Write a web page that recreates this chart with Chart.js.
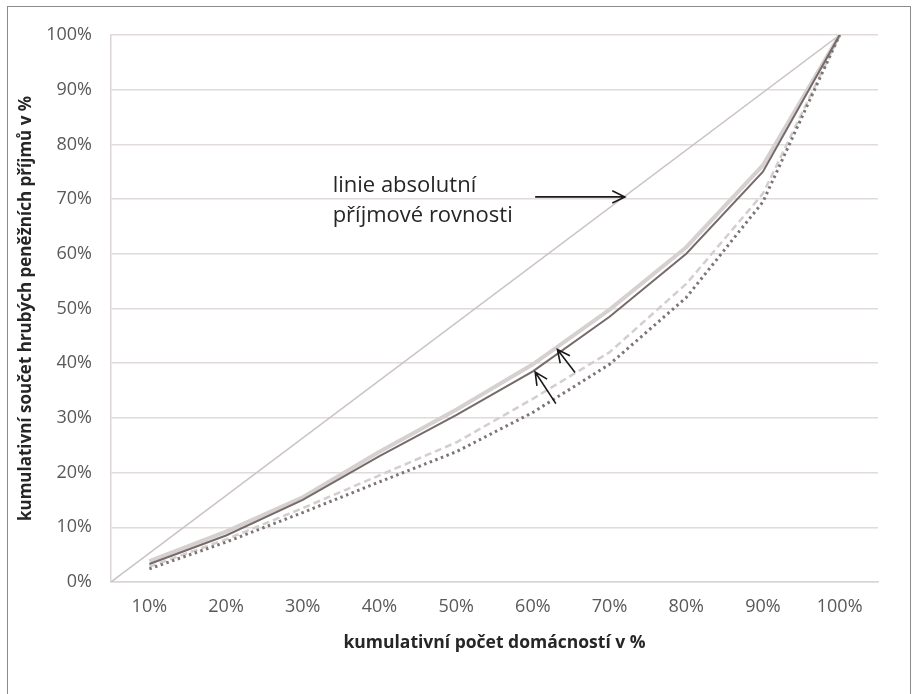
<!DOCTYPE html>
<html>
<head>
<meta charset="utf-8">
<script src="https://cdn.jsdelivr.net/npm/chart.js@4.4.1/dist/chart.umd.min.js"></script>
<style>
  html, body { margin: 0; padding: 0; background: #ffffff; }
  #wrap { position: relative; width: 918px; height: 694px; }
</style>
</head>
<body>
<div id="wrap"><canvas id="c" width="918" height="694"></canvas></div>
<script>
// ---- data ----
const categories = [10, 20, 30, 40, 50, 60, 70, 80, 90, 100];           // kumulativní počet domácností v %
const seriesLight  = [3.8, 9.2, 15.5, 23.8, 31.5, 39.8, 49.8, 61.2, 76.2, 100];
const seriesDark   = [3.3, 8.5, 15.0, 23.0, 30.5, 38.5, 48.5, 60.0, 75.0, 100];
const seriesDashed = [2.8, 7.8, 13.5, 19.5, 25.5, 33.5, 42.0, 54.5, 71.0, 100];
const seriesDotted = [2.4, 7.3, 12.7, 18.3, 23.8, 31.0, 39.8, 52.0, 69.5, 100];
const equalityX = [5, 100];
const equalityY = [0, 100];
const yTicks = [0, 10, 20, 30, 40, 50, 60, 70, 80, 90, 100];
const xTitle = 'kumulativní počet domácností v %';
const yTitle = 'kumulativní součet hrubých peněžních příjmů v %';
const noteLines = ['linie absolutní', 'příjmové rovnosti'];
// annotation anchors in data units (x, y)
const noteAnchor = [33.9, 72.5];
const bigArrow = [[60.3, 70.4], [72.0, 70.4]];
const smallArrows = [
  [[63.0, 32.6], [60.3, 38.4]],
  [[65.5, 38.3], [63.2, 42.5]]
];

const pts = (ys) => categories.map((c, i) => ({ x: c, y: ys[i] }));

const FONT = "'Open Sans', 'Noto Sans', sans-serif";

const decor = {
  id: 'decor',
  afterDatasetsDraw(chart) {
    const { ctx, scales: { x, y } } = chart;
    ctx.save();
    // annotation text
    ctx.fillStyle = '#262626';
    ctx.font = "22px " + FONT;
    ctx.textAlign = 'left';
    ctx.textBaseline = 'middle';
    const tx = x.getPixelForValue(noteAnchor[0]);
    const ty = y.getPixelForValue(noteAnchor[1]);
    noteLines.forEach((t, i) => ctx.fillText(t, tx, ty + i * 30));
    // arrows
    const arrow = (a, b, head) => {
      const x1 = x.getPixelForValue(a[0]), y1 = y.getPixelForValue(a[1]);
      const x2 = x.getPixelForValue(b[0]), y2 = y.getPixelForValue(b[1]);
      ctx.strokeStyle = '#1a1a1a';
      ctx.lineWidth = 1.6;
      ctx.beginPath();
      ctx.moveTo(x1, y1); ctx.lineTo(x2, y2);
      const ang = Math.atan2(y2 - y1, x2 - x1);
      ctx.moveTo(x2 - head * Math.cos(ang - 0.45), y2 - head * Math.sin(ang - 0.45));
      ctx.lineTo(x2, y2);
      ctx.lineTo(x2 - head * Math.cos(ang + 0.45), y2 - head * Math.sin(ang + 0.45));
      ctx.stroke();
    };
    arrow(bigArrow[0], bigArrow[1], 14);
    smallArrows.forEach(s => arrow(s[0], s[1], 14));
    ctx.restore();
  },
  afterDraw(chart) {
    const { ctx } = chart;
    ctx.save();
    ctx.strokeStyle = '#8c8c8c';
    ctx.lineWidth = 1;
    ctx.strokeRect(7.5, 6.5, 903, 720);
    ctx.restore();
  }
};

new Chart(document.getElementById('c'), {
  type: 'line',
  data: {
    datasets: [
      { data: equalityX.map((v, i) => ({ x: v, y: equalityY[i] })), borderColor: '#cbc3c3', borderWidth: 1.5, order: 5 },
      { data: pts(seriesLight), borderColor: '#d6d0d0', borderWidth: 4, order: 4 },
      { data: pts(seriesDashed), borderColor: '#d4cece', borderWidth: 2.5, borderDash: [7, 4], order: 3 },
      { data: pts(seriesDotted), borderColor: '#7d7575', borderWidth: 3, borderDash: [2.5, 3.5], order: 2 },
      { data: pts(seriesDark), borderColor: '#766b6b', borderWidth: 2, order: 1 }
    ]
  },
  options: {
    responsive: false,
    animation: false,
    events: [],
    elements: { point: { radius: 0 }, line: { tension: 0, fill: false } },
    layout: { padding: { left: 8, top: 35, right: 40, bottom: 32 } },
    plugins: { legend: { display: false }, tooltip: { enabled: false } },
    scales: {
      x: {
        type: 'linear', min: 5, max: 105,
        afterBuildTicks: (s) => { s.ticks = categories.map(v => ({ value: v })); },
        afterFit: (s) => { s.height = 80; },
        grid: { display: false, drawTicks: false },
        border: { display: true, color: '#dcd5d5', width: 1.5 },
        ticks: { padding: 14, color: '#595959', font: { family: FONT, size: 18 }, maxRotation: 0, autoSkip: false,
                 callback: (v) => v + '%' },
        title: { display: true, text: xTitle, color: '#262626', font: { family: FONT, size: 17.5, weight: 'bold' },
                 padding: { top: 0, bottom: 8 } }
      },
      y: {
        type: 'linear', min: 0, max: 100,
        afterBuildTicks: (s) => { s.ticks = yTicks.map(v => ({ value: v })); },
        afterFit: (s) => { s.width = 103; },
        grid: { color: '#e0dada', lineWidth: 1.5, drawTicks: false },
        border: { display: true, color: '#dcd5d5', width: 1.5 },
        ticks: { padding: 19, color: '#595959', font: { family: FONT, size: 18 }, callback: (v) => v + '%' },
        title: { display: true, text: yTitle, color: '#262626', font: { family: FONT, size: 17, weight: 'bold' },
                 padding: { top: 8, bottom: 0 } }
      }
    }
  },
  plugins: [decor]
});
</script>
</body>
</html>
